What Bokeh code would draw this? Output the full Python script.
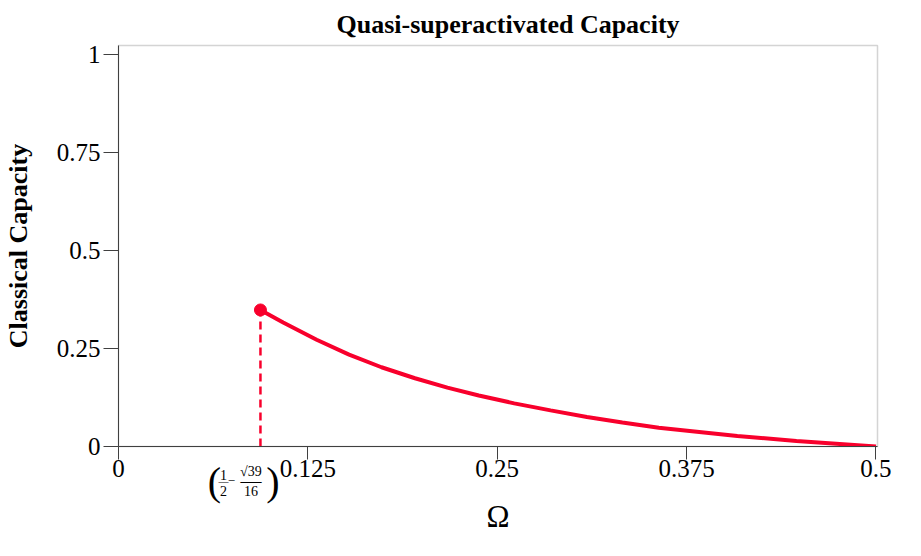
from bokeh.plotting import figure
from bokeh.models import Range1d, FixedTicker, ColumnDataSource
from bokeh.layouts import column
from bokeh.core.properties import value, field
from bokeh.embed import file_html
from bokeh.resources import INLINE

# ---- data ----
omega = [0.0937, 0.1087, 0.1308, 0.1522, 0.1736, 0.1957, 0.2171, 0.2378,
         0.2612, 0.2852, 0.3092, 0.3326, 0.3566, 0.4085, 0.4475, 0.5]
capacity = [0.348, 0.316, 0.272, 0.234, 0.202, 0.174, 0.150, 0.130,
            0.110, 0.092, 0.075, 0.061, 0.048, 0.027, 0.014, 0.0]
threshold_omega = 0.0937
threshold_capacity = 0.348

x_ticks = [0, 0.125, 0.25, 0.375, 0.5]
x_tick_labels = ["0", "0.125", "0.25", "0.375", "0.5"]
y_ticks = [0, 0.25, 0.5, 0.75, 1]
y_tick_labels = ["0", "0.25", "0.5", "0.75", "1"]

# threshold tick label (1/2 - sqrt(39)/16), as pieces of text
formula_text = ["(", "1", "—", "2", "−", "√39", "—", "16", ")"]
formula_size = ["40px", "14px", "10px", "14px", "13px", "14px", "21px", "14px", "40px"]

RED = "#f8002c"
SERIF = "Liberation Serif"
AXIS = "#404040"

x_range = Range1d(0, 0.501)

p = figure(width=905, height=540, output_backend="svg", toolbar_location=None,
           x_range=x_range, y_range=Range1d(0, 1.022),
           min_border_left=118, min_border_right=28, min_border_top=43,
           min_border_bottom=94, title="Quasi-superactivated Capacity")
p.grid.visible = False
p.outline_line_color = "#d4d4d4"
p.outline_line_width = 1.5
p.background_fill_color = "white"
p.border_fill_color = "white"

p.title.align = "left"
p.title.offset = 218
p.title.text_font = SERIF
p.title.text_font_style = "bold"
p.title.text_font_size = "26px"
p.title.text_color = "black"
p.title.standoff = 14

xa = p.xaxis[0]
xa.ticker = FixedTicker(ticks=x_ticks)
xa.major_label_overrides = {t: l for t, l in zip(x_ticks, x_tick_labels)}
xa.axis_line_color = AXIS
xa.major_tick_line_color = AXIS
xa.major_tick_in = 0
xa.major_tick_out = 13
xa.minor_tick_line_color = None
xa.major_label_standoff = 0
xa.major_label_text_font = SERIF
xa.major_label_text_font_size = "25px"
xa.major_label_text_color = "black"
xa.axis_label = "Ω"
xa.axis_label_text_font = SERIF
xa.axis_label_text_font_style = "normal"
xa.axis_label_text_font_size = "31px"
xa.axis_label_text_color = "black"
xa.axis_label_standoff = 19

ya = p.yaxis[0]
ya.ticker = FixedTicker(ticks=y_ticks)
ya.major_label_overrides = {t: l for t, l in zip(y_ticks, y_tick_labels)}
ya.axis_line_color = AXIS
ya.major_tick_line_color = AXIS
ya.minor_tick_line_color = None
ya.major_tick_in = 0
ya.major_tick_out = 15
ya.major_label_standoff = 3
ya.major_label_text_font = SERIF
ya.major_label_text_font_size = "25px"
ya.major_label_text_color = "black"
ya.axis_label = "Classical Capacity"
ya.axis_label_text_font = SERIF
ya.axis_label_text_font_style = "bold"
ya.axis_label_text_font_size = "26px"
ya.axis_label_text_color = "black"
ya.axis_label_standoff = 21

# curve, threshold marker and dashed drop line
src = ColumnDataSource(dict(x=omega, y=capacity))
p.line("x", "y", source=src, line_color=RED, line_width=4)
p.segment(x0=[threshold_omega], y0=[0], x1=[threshold_omega], y1=[threshold_capacity],
          line_color=RED, line_width=2.5, line_dash="8 5")
p.scatter(x=[threshold_omega], y=[threshold_capacity], size=12, marker="circle",
          fill_color=RED, line_color=RED)

# transparent full-width overlay strip holding the threshold tick label,
# sharing the main x range so the label sits at the threshold position
q = figure(width=905, height=52, output_backend="svg", toolbar_location=None,
           x_range=x_range, y_range=Range1d(0, 52),
           x_axis_type=None, y_axis_type=None,
           min_border_left=118, min_border_right=28, min_border_top=0,
           min_border_bottom=0, margin=(-85, 0, 0, 0))
q.grid.visible = False
q.outline_line_color = None
q.background_fill_alpha = 0
q.border_fill_alpha = 0
dx = [-46, -37, -37, -37, -29, -9.5, -9.5, -9.5, 12.5]
fy = [26.3, 33, 26.3, 16.5, 26.3, 36, 26.3, 16.5, 26.3]
fsrc = ColumnDataSource(dict(x=[threshold_omega] * len(formula_text), y=fy, dx=dx,
                             t=formula_text, fs=formula_size))
q.text("x", "y", text="t", source=fsrc, x_offset=field("dx"), text_font=value(SERIF),
       text_font_size=field("fs"), text_align="center", text_baseline="middle",
       text_color="black")

layout = column(p, q, spacing=0)
open("out.html", "w").write(file_html(layout, INLINE))
